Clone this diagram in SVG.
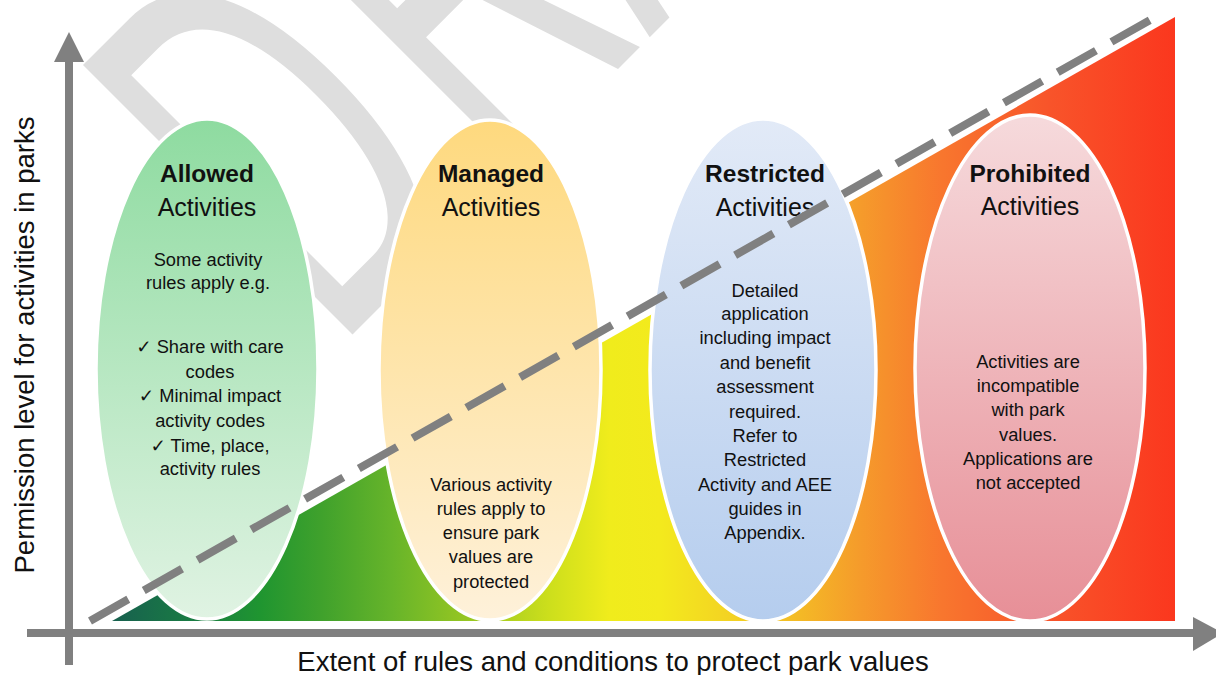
<svg xmlns="http://www.w3.org/2000/svg" width="1216" height="675" viewBox="0 0 1216 675">
<defs>
<style>
.t{font-family:"Liberation Sans","DejaVu Sans",sans-serif;fill:#111;text-anchor:middle}
.ttl{font-size:24.5px;font-weight:bold}
.sub{font-size:25px}
.body{font-size:18.3px}
.ax{font-size:27.5px}
.el{stroke:#fff;stroke-width:3.5}
.axis{stroke:#808080;stroke-width:8;fill:none}
</style>
<linearGradient id="tri" gradientUnits="userSpaceOnUse" x1="112" y1="0" x2="1175" y2="0">
<stop offset="0" stop-color="#17604f"/>
<stop offset="0.083" stop-color="#1a7e42"/>
<stop offset="0.139" stop-color="#1f9530"/>
<stop offset="0.196" stop-color="#3fa12c"/>
<stop offset="0.262" stop-color="#66b42a"/>
<stop offset="0.337" stop-color="#98c722"/>
<stop offset="0.412" stop-color="#cddf1c"/>
<stop offset="0.468" stop-color="#f0ec1c"/>
<stop offset="0.515" stop-color="#f3ea1d"/>
<stop offset="0.572" stop-color="#f3d622"/>
<stop offset="0.638" stop-color="#f4be25"/>
<stop offset="0.704" stop-color="#f59b2b"/>
<stop offset="0.779" stop-color="#f8772e"/>
<stop offset="0.882" stop-color="#f8542a"/>
<stop offset="1" stop-color="#fb371e"/>
</linearGradient>
<linearGradient id="gA" x1="0" y1="0" x2="0" y2="1"><stop offset="0" stop-color="#8edba0"/><stop offset="1" stop-color="#e0f3e3"/></linearGradient>
<linearGradient id="gM" x1="0" y1="0" x2="0" y2="1"><stop offset="0" stop-color="#fed97e"/><stop offset="1" stop-color="#fef1da"/></linearGradient>
<linearGradient id="gR" x1="0" y1="0" x2="0" y2="1"><stop offset="0" stop-color="#e2eaf7"/><stop offset="1" stop-color="#b5cdee"/></linearGradient>
<linearGradient id="gP" x1="0" y1="0" x2="0" y2="1"><stop offset="0" stop-color="#f6dadc"/><stop offset="1" stop-color="#e78f97"/></linearGradient>
</defs>
<rect width="1216" height="675" fill="#fff"/>
<text id="watermark" transform="translate(351.5,335.5) rotate(-45) scale(0.52,1)" x="-42.7 410 810 1180 1518" y="0" font-family="Liberation Sans, sans-serif" font-size="554" fill="#dedede">DRAFT</text>
<polygon id="gradient-triangle" points="112,621 1175,17 1175,621" fill="url(#tri)"/>
<g id="allowed">
<ellipse class="el" cx="207" cy="369" rx="111" ry="250" fill="url(#gA)"/>
<text class="t ttl" x="207" y="182">Allowed</text>
<text class="t sub" x="207" y="216">Activities</text>
<text class="t body" x="208" y="266">Some activity</text>
<text class="t body" x="208" y="289">rules apply e.g.</text>
<text class="t body" x="210" y="353">✓ Share with care</text>
<text class="t body" x="210" y="378">codes</text>
<text class="t body" x="210" y="402">✓ Minimal impact</text>
<text class="t body" x="210" y="427">activity codes</text>
<text class="t body" x="210" y="452">✓ Time, place,</text>
<text class="t body" x="210" y="475">activity rules</text>
</g>
<g id="managed">
<ellipse class="el" cx="490" cy="370" rx="111" ry="250" fill="url(#gM)"/>
<text class="t ttl" x="491" y="182">Managed</text>
<text class="t sub" x="491" y="216">Activities</text>
<text class="t body" x="491" y="491">Various activity</text>
<text class="t body" x="491" y="515">rules apply to</text>
<text class="t body" x="491" y="539">ensure park</text>
<text class="t body" x="491" y="563">values are</text>
<text class="t body" x="491" y="588">protected</text>
</g>
<g id="restricted">
<ellipse class="el" cx="763" cy="370" rx="113" ry="251" fill="url(#gR)"/>
<text class="t ttl" x="765" y="182">Restricted</text>
<text class="t sub" x="765" y="216">Activities</text>
<text class="t body" x="765" y="297">Detailed</text>
<text class="t body" x="765" y="320">application</text>
<text class="t body" x="765" y="344">including impact</text>
<text class="t body" x="765" y="369">and benefit</text>
<text class="t body" x="765" y="393">assessment</text>
<text class="t body" x="765" y="418">required.</text>
<text class="t body" x="765" y="442">Refer to</text>
<text class="t body" x="765" y="466">Restricted</text>
<text class="t body" x="765" y="491">Activity and AEE</text>
<text class="t body" x="765" y="515">guides in</text>
<text class="t body" x="765" y="539">Appendix.</text>
</g>
<g id="prohibited">
<ellipse class="el" cx="1030" cy="368" rx="115" ry="253" fill="url(#gP)"/>
<text class="t ttl" x="1030" y="182">Prohibited</text>
<text class="t sub" x="1030" y="215">Activities</text>
<text class="t body" x="1028" y="368">Activities are</text>
<text class="t body" x="1028" y="392">incompatible</text>
<text class="t body" x="1028" y="416">with park</text>
<text class="t body" x="1028" y="441">values.</text>
<text class="t body" x="1028" y="465">Applications are</text>
<text class="t body" x="1028" y="489">not accepted</text>
</g>
<g id="connectors">
<line x1="90" y1="621" x2="1150" y2="20" stroke="#808080" stroke-width="8" stroke-dasharray="44 17.8"/>
<line class="axis" x1="69" y1="665" x2="69" y2="60"/>
<polygon points="69,32 54,62 84,62" fill="#808080"/>
<line class="axis" x1="27" y1="633" x2="1195" y2="633"/>
<polygon points="1223,633 1193,617 1193,651" fill="#808080"/>
</g>
<g id="axis-labels">
<text class="t ax" x="613" y="671">Extent of rules and conditions to protect park values</text>
<text class="t ax" transform="translate(33.5,345) rotate(-90)">Permission level for activities in parks</text>
</g>
</svg>
